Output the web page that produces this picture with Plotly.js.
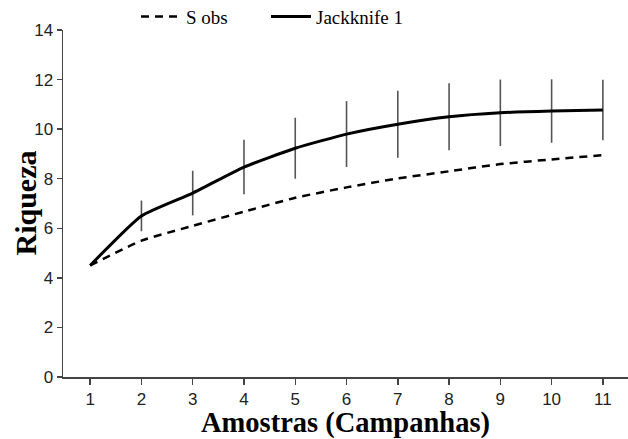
<!DOCTYPE html>
<html>
<head>
<meta charset="utf-8">
<script src="https://cdn.plot.ly/plotly-3.0.1.min.js"></script>
<style>html,body{margin:0;padding:0;background:#fff;}#chart{width:628px;height:439px;}</style>
</head>
<body>
<div id="chart"></div>
<script>
const amostras = [1, 2, 3, 4, 5, 6, 7, 8, 9, 10, 11];
const sObs = [4.5, 5.5, 6.1, 6.67, 7.23, 7.65, 8.01, 8.3, 8.59, 8.78, 8.95];
const jackknife1 = [4.5, 6.5, 7.42, 8.47, 9.23, 9.8, 10.2, 10.5, 10.66, 10.73, 10.77];
const jackknifeErr = [0, 0.62, 0.9, 1.1, 1.23, 1.33, 1.35, 1.35, 1.34, 1.28, 1.22];
const yTicks = [0, 2, 4, 6, 8, 10, 12, 14];

const traces = [
  {
    x: amostras, y: sObs, name: 'S obs', type: 'scatter', mode: 'lines', legend: 'legend',
    line: {color: '#000', width: 2.5, dash: '8px,6px', shape: 'spline', smoothing: 0.5}
  },
  {
    x: amostras, y: jackknife1, name: 'Jackknife 1', type: 'scatter', mode: 'lines', legend: 'legend2',
    line: {color: '#000', width: 3, shape: 'spline', smoothing: 0.5},
    error_y: {type: 'data', array: jackknifeErr, visible: true, color: '#555', thickness: 1.6, width: 0}
  }
];

const legendFont = {family: 'Liberation Serif, Times New Roman, serif', size: 19, color: '#000'};

const layout = {
  width: 628, height: 439,
  margin: {l: 63, r: 0, t: 30, b: 62, autoexpand: false},
  paper_bgcolor: '#fff', plot_bgcolor: '#fff',
  showlegend: true,
  legend: {
    orientation: 'h', xref: 'container', yref: 'container',
    x: 136 / 628, xanchor: 'left', y: 0.962, yanchor: 'middle',
    font: legendFont, bgcolor: 'rgba(0,0,0,0)', itemwidth: 40
  },
  legend2: {
    orientation: 'h', xref: 'container', yref: 'container',
    x: 266 / 628, xanchor: 'left', y: 0.962, yanchor: 'middle',
    font: legendFont, bgcolor: 'rgba(0,0,0,0)', itemwidth: 40
  },
  xaxis: {
    range: [0.47, 11.49], tickvals: amostras, ticktext: amostras.map(String),
    showgrid: false, zeroline: false, showline: true, linecolor: '#444', linewidth: 1.5,
    ticks: 'outside', ticklen: 6, tickcolor: '#444', tickwidth: 1.5,
    tickfont: {family: 'Liberation Sans, Arial, sans-serif', size: 17, color: '#222'},
    title: {text: 'Amostras (Campanhas)', standoff: 6,
      font: {family: 'Liberation Serif, Times New Roman, serif', size: 28.5, color: '#000', weight: 'bold'}}
  },
  yaxis: {
    range: [0, 14], tickvals: yTicks, ticktext: yTicks.map(String),
    showgrid: false, zeroline: false, showline: true, linecolor: '#444', linewidth: 1.5,
    ticks: 'outside', ticklen: 5, tickcolor: '#444', tickwidth: 1.5,
    tickfont: {family: 'Liberation Sans, Arial, sans-serif', size: 17, color: '#222'}
  },
  annotations: [{
    text: 'Riqueza', xref: 'paper', yref: 'paper', x: (25 - 63) / 565, y: 0.5,
    xanchor: 'center', yanchor: 'middle', textangle: -90, showarrow: false,
    font: {family: 'Liberation Serif, Times New Roman, serif', size: 30, color: '#000', weight: 'bold'}
  }]
};

Plotly.newPlot('chart', traces, layout, {displayModeBar: false, staticPlot: true});
</script>
</body>
</html>
